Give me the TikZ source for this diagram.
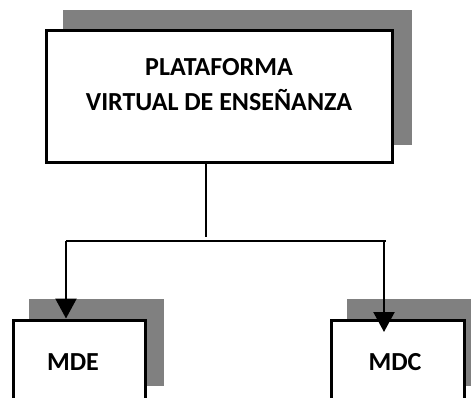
\documentclass[tikz,border=0pt]{standalone}
\usepackage{fontspec}
\setmainfont{Carlito}
\usetikzlibrary{arrows.meta,backgrounds}
\definecolor{shadowgray}{RGB}{128,128,128}
\begin{document}
\begin{tikzpicture}[x=1pt,y=-1pt,
  box/.style={draw=black, line width=3pt, fill=white, inner sep=0pt},
  lbl/.style={font=\bfseries\fontsize{26}{35}\selectfont, align=center, inner sep=0pt},
  shadowbox/.style={fill=shadowgray, draw=none},
  conn/.style={draw=black, line width=2.3pt},
  arr/.style={conn, -{Triangle[length=20pt,width=21pt]}}]
\useasboundingbox (0,0) rectangle (471,397);
% boxes
\node[box, minimum width=346pt, minimum height=132pt] (plat) at (219,96) {};
\node[box, minimum width=132pt, minimum height=84pt] (mde) at (79,362) {};
\node[box, minimum width=133pt, minimum height=84pt] (mdc) at (397.5,362) {};
% labels
\node[lbl] (plattxt) at (219,85) {PLATAFORMA\\VIRTUAL DE ENSEÑANZA};
\node[lbl] (mdetxt) at (73,362) {MDE};
\node[lbl] (mdctxt) at (395,362) {MDC};
% shadows
\begin{scope}[on background layer]
\fill[shadowbox] ([shift={(18,-19)}]plat.south west) rectangle ([shift={(18,-19)}]plat.north east);
\fill[shadowbox] ([shift={(17,-20)}]mde.south west) rectangle ([shift={(17,-20)}]mde.north east);
\fill[shadowbox] ([shift={(17,-20)}]mdc.south west) rectangle ([shift={(17,-20)}]mdc.north east);
\end{scope}
% connectors
\coordinate (down) at (206,237);
\coordinate (jl) at (66,241);
\coordinate (jr) at (386,241);
\coordinate (jr2) at (384,241);
\coordinate (tipr) at (384,332);
\draw[conn] (down |- plat.south) -- (down);
\draw[conn] (jl) -- (jr);
\draw[arr] (jl) -- (jl |- mde.north);
\draw[arr] (jr2) -- (tipr);
\end{tikzpicture}
\end{document}
